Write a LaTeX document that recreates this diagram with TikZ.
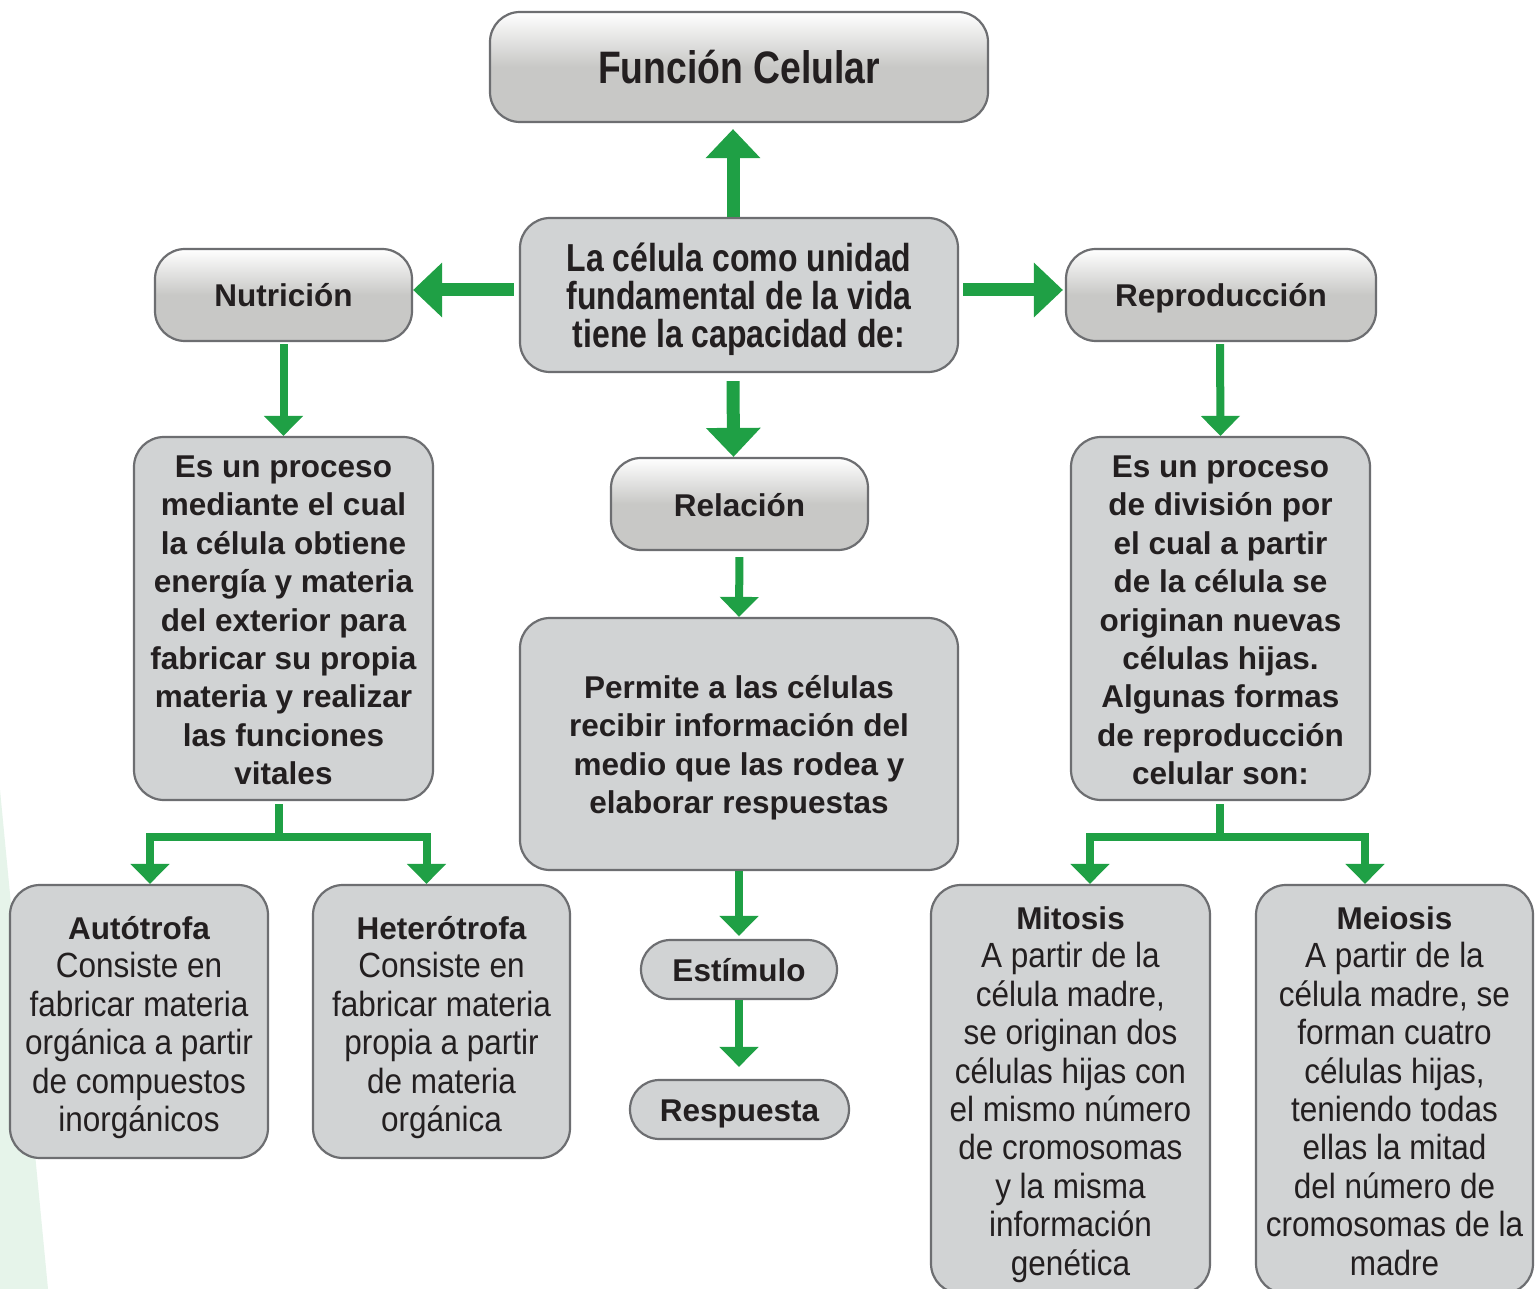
\documentclass[tikz,border=0pt]{standalone}
\usepackage{fontspec}
\setmainfont{Liberation Sans}
\newfontfamily\angosta[FakeStretch=0.82]{Liberation Sans}
\newfontfamily\cuerpo[FakeStretch=0.9]{Liberation Sans}
\usepackage{xcolor}
\usepackage{tikz}
\usetikzlibrary{arrows.meta}

\definecolor{verde}{HTML}{1FA045}
\definecolor{borde}{HTML}{6D6E71}
\definecolor{relleno}{HTML}{D1D3D4}
\definecolor{degradado}{HTML}{C8C8C6}
\definecolor{texto}{HTML}{231F20}
\definecolor{fondo}{HTML}{E6F4EA}

\newcommand{\encabezado}[1]{{\normalfont\bfseries\fontsize{31.5}{38.4}\selectfont #1}}
\newcommand{\alto}{\rule{0pt}{40pt}}
\newcommand{\bajo}[1]{\rule[-#1]{0pt}{#1}}

\tikzset{
  caja/.style={draw=borde, line width=2.2pt, fill=relleno, rounded corners=30pt,
    align=center, text=texto, inner sep=0pt},
  cajagrad/.style={caja, top color=white, bottom color=degradado, middle color=degradado},
  negrita/.style={font=\bfseries\fontsize{31.5}{38.4}\selectfont},
  unalinea/.style={negrita, text height=30pt, text depth=6pt},
  normal/.style={font=\cuerpo\fontsize{35}{38.4}\selectfont},
  flecha/.style={draw=verde, line width=8pt, -{Triangle[width=38pt,length=20pt]}},
  flechagruesa/.style={draw=verde, line width=13pt, -{Triangle[width=53pt,length=29pt]}},
  linea/.style={draw=verde, line width=8pt}
}

\begin{document}
\begin{tikzpicture}[x=1pt, y=-1pt]

\fill[white] (0,0) rectangle (1535,1289);
\fill[fondo] (0,790) -- (48,1289) -- (0,1289) -- cycle;
\useasboundingbox (0,0) rectangle (1535,1289);

% top row
\node[cajagrad, minimum width=498pt, minimum height=110pt, text height=40pt, text depth=7pt,
  font=\angosta\bfseries\fontsize{45.5}{46}\selectfont] (titulo) at (739,67) {Función Celular};
\node[caja, minimum width=438pt, minimum height=154pt,
  font=\angosta\bfseries\fontsize{39}{38}\selectfont] (centro) at (739,295)
  {\alto La célula como unidad\\fundamental de la vida\\tiene la capacidad de:\bajo{10pt}};
\node[cajagrad, unalinea, minimum width=257pt, minimum height=92pt] (nutricion) at (283.5,295) {Nutrición};
\node[cajagrad, unalinea, minimum width=310pt, minimum height=92pt] (reproduccion) at (1221,295) {Reproducción};
\node[cajagrad, unalinea, minimum width=257pt, minimum height=92pt] (relacion) at (739.5,504) {Relación};

% descriptions
\node[caja, negrita, minimum width=299pt, minimum height=363pt] (nutdesc) at (283.5,618.5)
  {\alto Es un proceso\\mediante el cual\\la célula obtiene\\energía y materia\\del exterior para\\fabricar su propia\\materia y realizar\\las funciones\\vitales\bajo{15pt}};
\node[caja, negrita, minimum width=299pt, minimum height=363pt] (repdesc) at (1220.5,618.5)
  {\alto Es un proceso\\de división por\\el cual a partir\\de la célula se\\originan nuevas\\células hijas.\\Algunas formas\\de reproducción\\celular son:\bajo{15pt}};
\node[caja, negrita, minimum width=438pt, minimum height=252pt] (permite) at (739,744)
  {\alto Permite a las células\\recibir información del\\medio que las rodea y\\elaborar respuestas\bajo{16pt}};
\node[caja, unalinea, rounded corners=29.5pt, minimum width=196pt, minimum height=59pt] (estimulo) at (739,969.5) {Estímulo};
\node[caja, unalinea, rounded corners=29.5pt, minimum width=219pt, minimum height=59pt] (respuesta) at (739.5,1109.5) {Respuesta};

% bottom boxes
\node[caja, normal, minimum width=258pt, minimum height=273pt] (autotrofa) at (139,1021.5)
  {\alto\encabezado{Autótrofa}\\Consiste en\\fabricar materia\\orgánica a partir\\de compuestos\\inorgánicos\bajo{12pt}};
\node[caja, normal, minimum width=257pt, minimum height=273pt] (heterotrofa) at (441.5,1021.5)
  {\alto\encabezado{Heterótrofa}\\Consiste en\\fabricar materia\\propia a partir\\de materia\\orgánica\bajo{12pt}};
\node[caja, normal, minimum width=279pt, minimum height=408.6pt] (mitosis) at (1070.5,1089.3)
  {\alto\encabezado{Mitosis}\\A partir de la\\célula madre,\\se originan dos\\células hijas con\\el mismo número\\de cromosomas\\y la misma\\información\\genética\bajo{14pt}};
\node[caja, normal, minimum width=277pt, minimum height=408.6pt] (meiosis) at (1394.5,1089.3)
  {\alto\encabezado{Meiosis}\\A partir de la\\célula madre, se\\forman cuatro\\células hijas,\\teniendo todas\\ellas la mitad\\del número de\\cromosomas de la\\madre\bajo{14pt}};

% thick arrows
\draw[flechagruesa, shorten >=6pt] ([xshift=-6pt]centro.north) -- ([xshift=-6pt]titulo.south);
\draw[flechagruesa, shorten <=5pt] ([yshift=5pt]centro.west) -- ([yshift=5pt]nutricion.east);
\draw[flechagruesa, shorten <=4pt, shorten >=2pt] ([yshift=5pt]centro.east) -- ([yshift=5pt]reproduccion.west);
\draw[flechagruesa, shorten <=8pt] ([xshift=-6pt]centro.south) -- ([xshift=-6pt]relacion.north);

% thin arrows
\draw[flecha, shorten <=2pt] (nutricion.south) -- (nutdesc.north);
\draw[flecha, shorten <=2pt] ([xshift=-1pt]reproduccion.south) -- (repdesc.north);
\draw[flecha, shorten <=6pt] (relacion.south) -- (permite.north);
\draw[flecha, shorten >=3pt] (permite.south) -- (estimulo.north);
\draw[flecha, shorten >=12pt] (estimulo.south) -- ([xshift=-0.5pt]respuesta.north);

% branches
\coordinate (nutbif) at (279,837);
\draw[linea, shorten <=3pt] (nutdesc.south -| nutbif) -- (nutbif);
\draw[flecha] (nutbif) -| ([xshift=11pt]autotrofa.north);
\draw[flecha] (nutbif) -| ([xshift=-15pt]heterotrofa.north);

\coordinate (repbif) at (1220,837);
\draw[linea, shorten <=3pt] (repdesc.south -| repbif) -- (repbif);
\draw[flecha] (repbif) -| ([xshift=19.5pt]mitosis.north);
\draw[flecha] (repbif) -| ([xshift=-29.5pt]meiosis.north);

\end{tikzpicture}
\end{document}
